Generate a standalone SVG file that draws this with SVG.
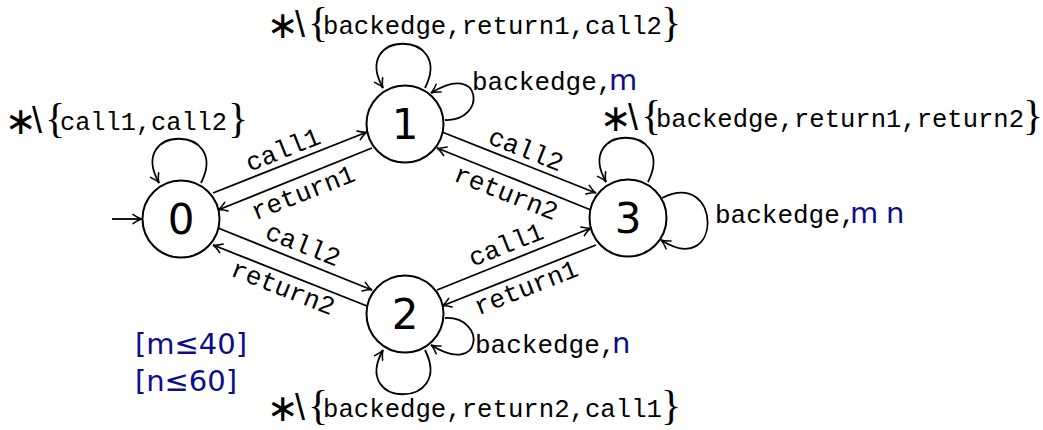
<svg xmlns="http://www.w3.org/2000/svg" width="1043" height="430" viewBox="0 0 1043 430">
<style>
.node circle{fill:#fff;stroke:#000;stroke-width:2}
.node text{font-family:"DejaVu Sans",sans-serif;font-size:42px;text-anchor:middle}
.edge{fill:none;stroke:#000;stroke-width:1.8;marker-end:url(#arr)}
.tt{font-family:"Liberation Mono",monospace;font-size:26px}
.lbl{text-anchor:middle}
.ast{font-family:"DejaVu Sans",sans-serif;font-size:38px;text-anchor:middle}
.bs{font-family:"Liberation Sans",sans-serif;font-size:36px}
.br{font-family:"Liberation Serif",serif;font-size:42px}
.bl{font-family:"DejaVu Sans",sans-serif;font-size:29px;fill:#0d0d8a}
.cons{font-family:"DejaVu Sans",sans-serif;font-size:29px;fill:#0d0d8a}
</style>
<defs>
<marker id="arr" markerUnits="userSpaceOnUse" viewBox="-11 -6 13 12" refX="0" refY="0" markerWidth="13" markerHeight="12" orient="auto">
<path d="M-9,-4.6 Q-3.5,-0.7 0,0 Q-3.5,0.7 -9,4.6" fill="none" stroke="#000" stroke-width="1.6" stroke-linecap="round"/>
</marker>
</defs>
<g id="connectors">
<path class="edge" d="M112,219 L142,219"/>
<path class="edge" d="M213,193 L367,132"/>
<path class="edge" d="M372,148 L218,210"/>
<path class="edge" d="M442,132 L596,193"/>
<path class="edge" d="M591,210 L437,148"/>
<path class="edge" d="M218,228 L372,290"/>
<path class="edge" d="M367,306 L213,245"/>
<path class="edge" d="M437,290 L591,228"/>
<path class="edge" d="M596,245 L442,306"/>
<path class="edge" transform="translate(181,219)" d="M20,-36 C50,-95 -55,-95 -22,-36"/>
<path class="edge" transform="translate(405,124)" d="M20,-36 C50,-95 -55,-95 -22,-36"/>
<path class="edge" transform="translate(628,218)" d="M20,-36 C50,-95 -55,-95 -22,-36"/>
<path class="edge" transform="translate(405,314)" d="M20,36 C50,95 -55,95 -22,36"/>
<path class="edge" transform="translate(405,124)" d="M40,-4 C82,-2 78,-64 26,-31"/>
<path class="edge" transform="translate(405,314)" d="M40,4 C82,2 78,64 26,31"/>
<path class="edge" transform="translate(628,218)" d="M34,-20 C95,-50 95,62 33,22"/>
</g>
<g id="edge-labels" class="tt lbl">
<text transform="translate(283,150) rotate(-21.6)" y="8">call1</text>
<text transform="translate(303,193) rotate(-21.6)" y="8">return1</text>
<text transform="translate(526,150) rotate(21.6)" y="8">call2</text>
<text transform="translate(506,193) rotate(21.6)" y="8">return2</text>
<text transform="translate(303,245) rotate(21.6)" y="8">call2</text>
<text transform="translate(283,288) rotate(21.6)" y="8">return2</text>
<text transform="translate(506,245) rotate(-21.6)" y="8">call1</text>
<text transform="translate(526,288) rotate(-21.6)" y="8">return1</text>
</g>
<g id="loop-labels">
<g transform="translate(10,130)">
<text class="ast" x="11" y="4">∗</text><text class="bs" x="22" y="3">\</text><text class="br" x="35" y="2">{</text>
<text class="tt" x="50" y="0" textLength="167" lengthAdjust="spacingAndGlyphs">call1,call2</text><text class="br" x="218" y="2">}</text>
</g>
<g transform="translate(272,34)">
<text class="ast" x="11" y="4">∗</text><text class="bs" x="23" y="3">\</text><text class="br" x="36" y="2">{</text>
<text class="tt" x="51" y="0" textLength="339" lengthAdjust="spacingAndGlyphs">backedge,return1,call2</text><text class="br" x="389" y="2">}</text>
</g>
<g transform="translate(605,127)">
<text class="ast" x="11" y="4">∗</text><text class="bs" x="23" y="3">\</text><text class="br" x="36" y="2">{</text>
<text class="tt" x="51" y="0" textLength="368" lengthAdjust="spacingAndGlyphs">backedge,return1,return2</text><text class="br" x="418" y="2">}</text>
</g>
<g transform="translate(272,417)">
<text class="ast" x="11" y="4">∗</text><text class="bs" x="23" y="3">\</text><text class="br" x="36" y="2">{</text>
<text class="tt" x="51" y="0" textLength="339" lengthAdjust="spacingAndGlyphs">backedge,return2,call1</text><text class="br" x="389" y="2">}</text>
</g>
<text class="tt" x="472" y="90">backedge,</text><text class="bl" x="609" y="90">m</text>
<text class="tt" x="715" y="223">backedge,</text><text class="bl" x="850" y="223">m</text><text class="bl" x="886" y="223">n</text>
<text class="tt" x="475" y="353">backedge,</text><text class="bl" x="612" y="353">n</text>
</g>
<g id="node0" class="node"><circle cx="181" cy="219" r="38.5"/><text x="181" y="234">0</text></g>
<g id="node1" class="node"><circle cx="405" cy="124" r="38.5"/><text x="405" y="139">1</text></g>
<g id="node2" class="node"><circle cx="405" cy="314" r="38.5"/><text x="405" y="329">2</text></g>
<g id="node3" class="node"><circle cx="628" cy="218" r="38.5"/><text x="628" y="233">3</text></g>
<g id="constraints">
<text class="cons" x="135" y="354" textLength="112" lengthAdjust="spacing">[m≤40]</text>
<text class="cons" x="135" y="391" textLength="102" lengthAdjust="spacing">[n≤60]</text>
</g>
</svg>
